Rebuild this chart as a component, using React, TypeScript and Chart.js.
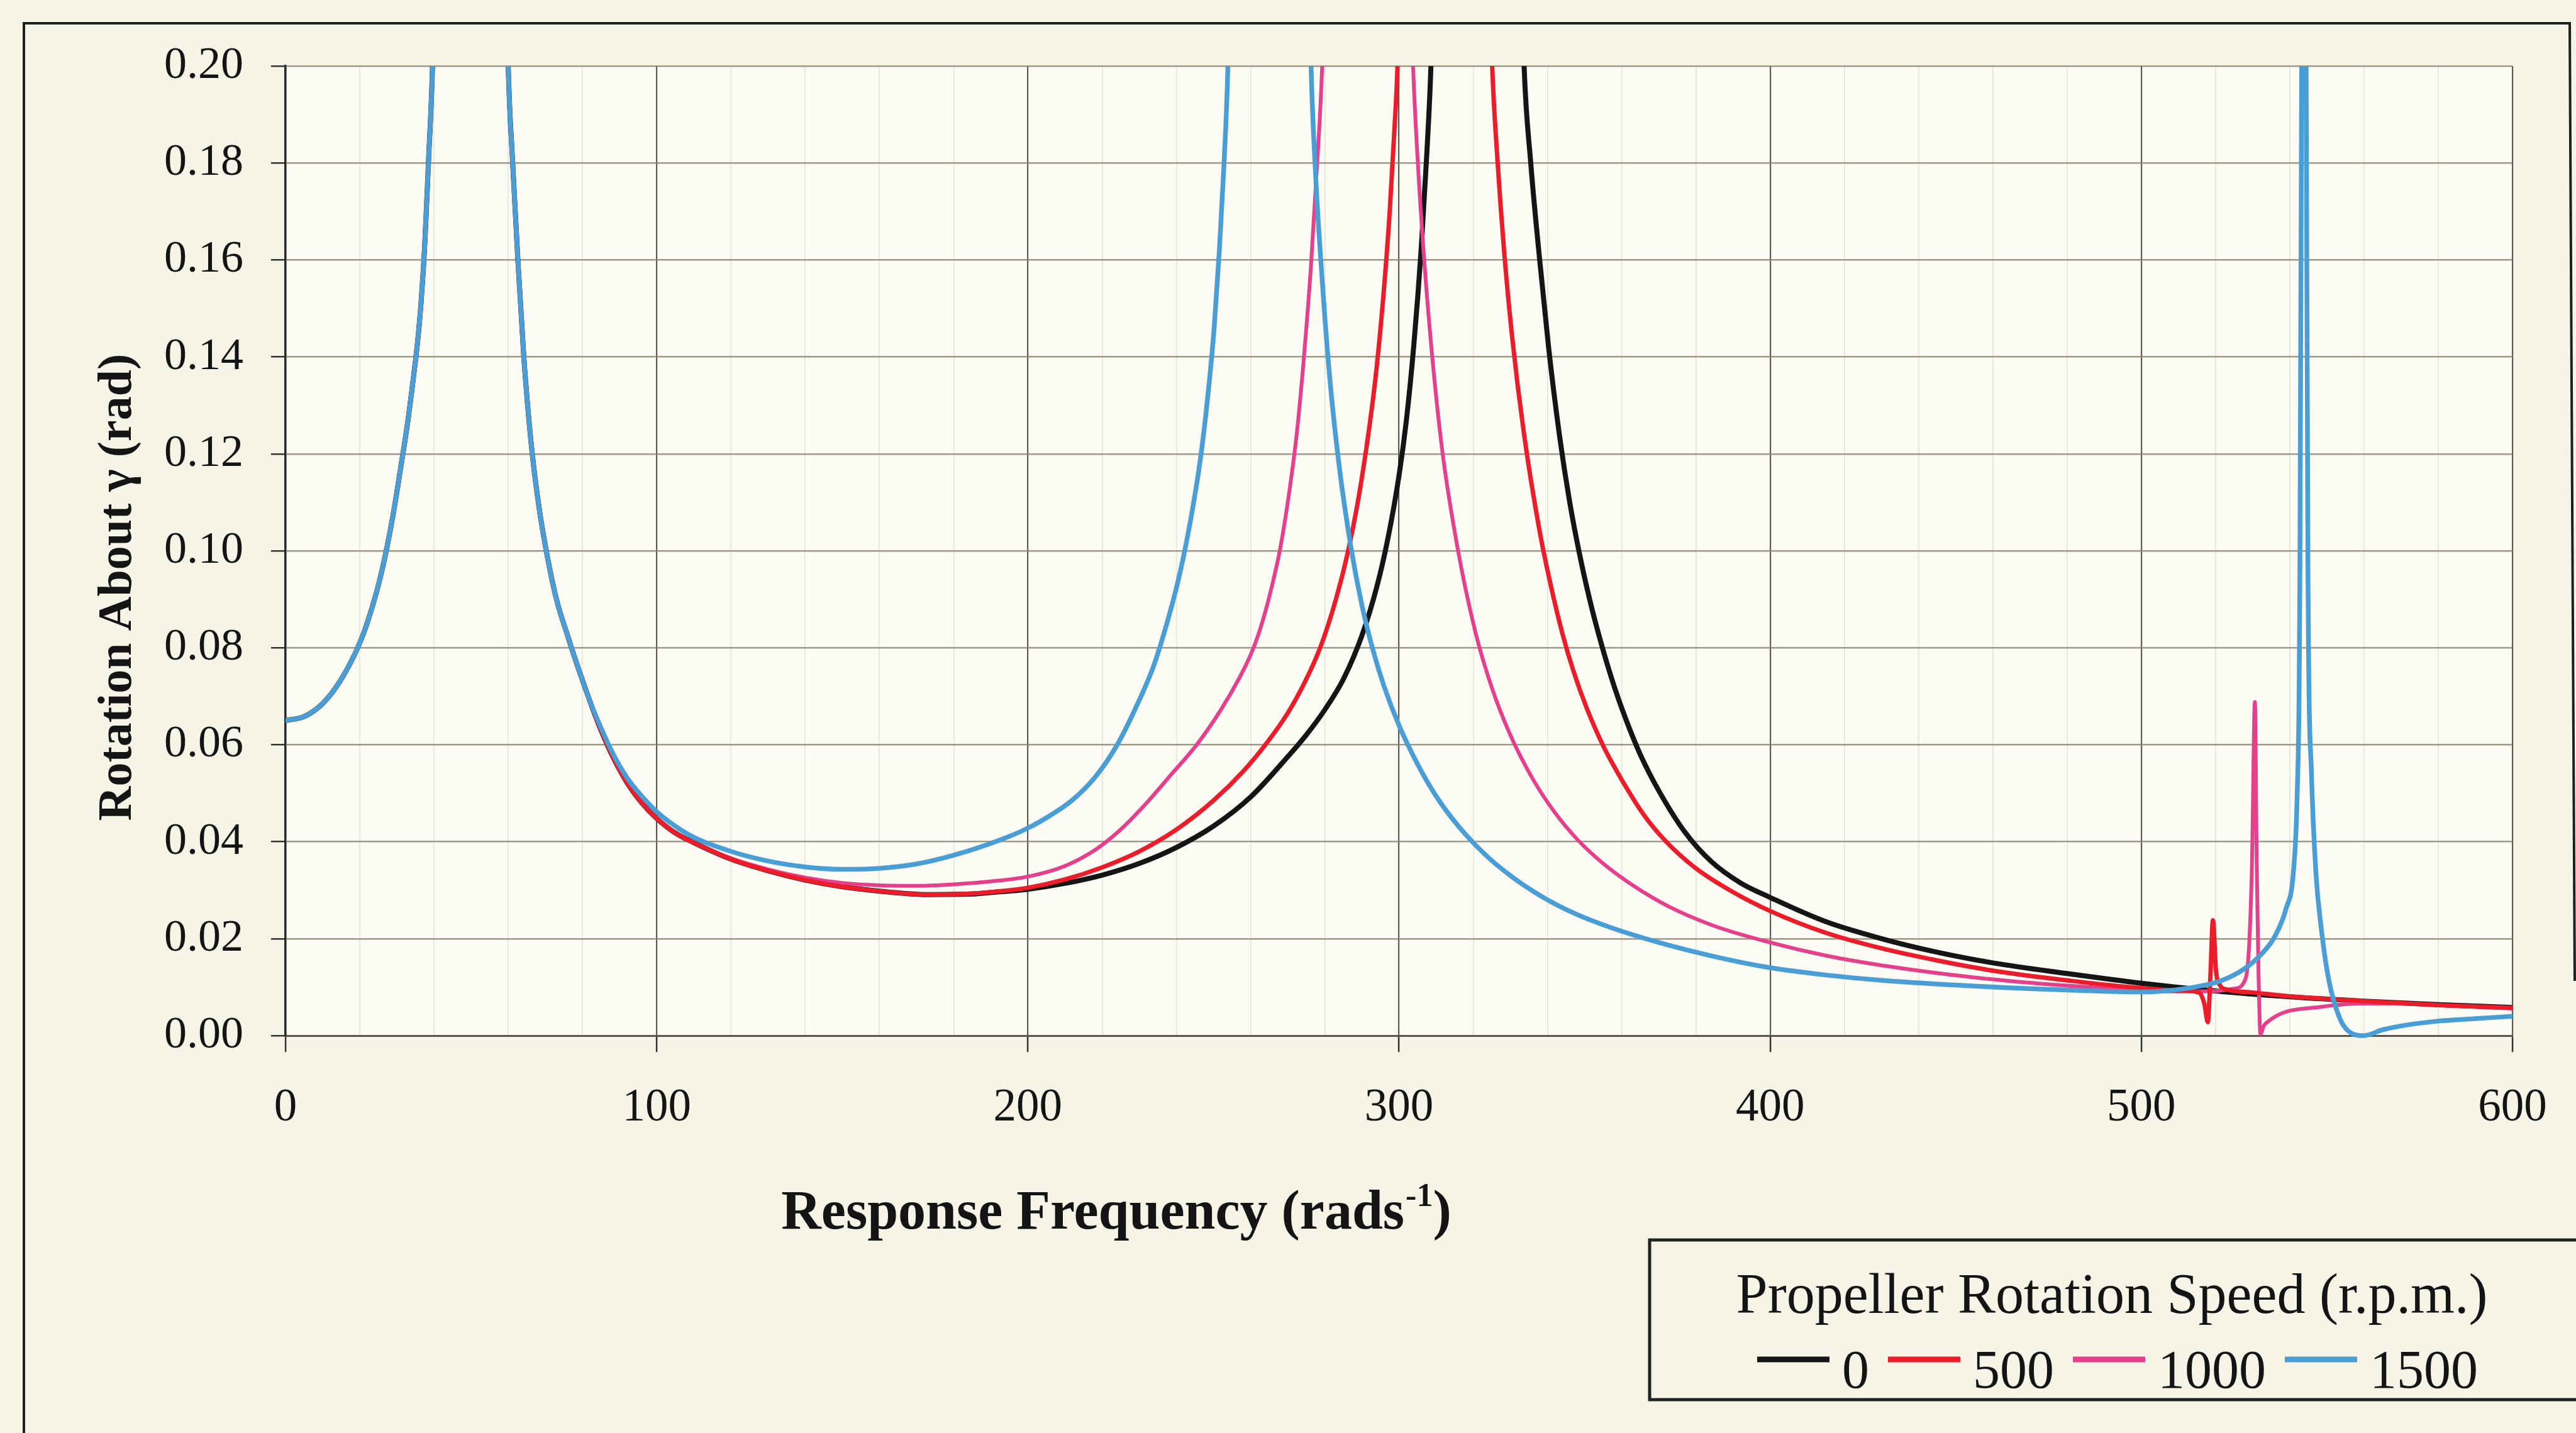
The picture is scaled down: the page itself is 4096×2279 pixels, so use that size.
import React, { useEffect, useRef } from "react";
import { Chart, registerables } from "chart.js";

Chart.register(...registerables);

const FONT = "'Liberation Serif', 'Times New Roman', serif";

// ---- series meta ----
const SERIES_LABELS = ["0", "500", "1000", "1500"];
const SERIES_COLORS = ["#151515", "#ec1c2b", "#e6408c", "#4a9ed6"];
const SERIES_WIDTHS = [8, 7, 6, 7.5];
const SERIES_ORDER = [3, 1, 2, 0];

const LEGEND_TITLE = "Propeller Rotation Speed (r.p.m.)";
const X_TITLE = "Response Frequency (rads";
const X_TITLE_SUP = "-1";
const Y_TITLE = "Rotation About \u03b3 (rad)";

const X_MIN = 0;
const X_MAX = 600;
const X_STEP = 20;
const X_LABEL_EVERY = 100;
const Y_MIN = 0;
const Y_MAX = 0.2;
const Y_STEP = 0.02;

// ---- data: [frequency (rad/s), rotation (rad)] ----
const SPEED_0 = [
  [0, 0.065], [5, 0.0658], [10, 0.0685], [15, 0.0735], [20, 0.081], [23, 0.0875], [26, 0.096],
  [29, 0.1075], [31, 0.117], [33, 0.127], [34.5, 0.136], [35.5, 0.1425], [36.5, 0.151],
  [37.5, 0.163], [38.5, 0.18], [39.6, 0.2], [44, 0.36], [50, 0.62], [56, 0.36], [60, 0.2],
  [61.2, 0.18], [62.6, 0.16], [64.2, 0.14], [66.2, 0.122], [68.3, 0.109], [70.5, 0.099],
  [73, 0.09], [76, 0.0825], [79, 0.0755], [82, 0.069], [85, 0.063], [88, 0.0578], [92, 0.0522],
  [96, 0.048], [100, 0.0448], [105, 0.0418], [110, 0.0398], [120, 0.0364], [130, 0.034],
  [140, 0.0321], [150, 0.0307], [160, 0.0298], [173, 0.0291], [185, 0.0292], [190, 0.0295],
  [200, 0.0302], [210, 0.0314], [220, 0.0331], [230, 0.0355], [240, 0.0388], [250, 0.0432],
  [260, 0.0492], [270, 0.0575], [275, 0.062], [280, 0.0672], [285, 0.0735], [290, 0.0825],
  [294, 0.0925], [297, 0.1025], [300, 0.1155], [302, 0.127], [304, 0.1425], [306, 0.1625],
  [307.5, 0.182], [308.6, 0.2], [314, 0.36], [321, 0.6], [328, 0.36], [333.7, 0.2],
  [335.5, 0.18], [337.9, 0.16], [340.3, 0.142], [343.2, 0.124], [346, 0.11], [349, 0.098],
  [352, 0.088], [355, 0.0795], [358, 0.072], [361, 0.0655], [365, 0.058], [370, 0.0505],
  [377, 0.042], [384, 0.036], [392, 0.0315], [400, 0.0285], [415, 0.0235], [430, 0.02],
  [445, 0.0172], [460, 0.015], [480, 0.0128], [500, 0.0108], [520, 0.0092], [540, 0.008],
  [560, 0.0071], [580, 0.0064], [600, 0.0058],
];

const SPEED_500 = [
  [0, 0.065], [5, 0.0658], [10, 0.0685], [15, 0.0735], [20, 0.081], [23, 0.0875], [26, 0.096],
  [29, 0.1075], [31, 0.117], [33, 0.127], [34.5, 0.136], [35.5, 0.1425], [36.5, 0.151],
  [37.5, 0.163], [38.5, 0.18], [39.6, 0.2], [44, 0.36], [50, 0.62], [56, 0.36], [60, 0.2],
  [61.2, 0.18], [62.6, 0.16], [64.2, 0.14], [66.2, 0.122], [68.3, 0.109], [70.5, 0.099],
  [73, 0.09], [76, 0.0825], [79, 0.0755], [82, 0.069], [85, 0.063], [88, 0.0578], [92, 0.0522],
  [96, 0.048], [100, 0.0448], [105, 0.0418], [110, 0.0398], [120, 0.0364], [130, 0.034],
  [140, 0.0321], [150, 0.0307], [160, 0.0298], [173, 0.0291], [185, 0.0293], [190, 0.0296],
  [200, 0.0305], [210, 0.0322], [220, 0.0347], [230, 0.038], [240, 0.0425], [250, 0.0485],
  [258, 0.0545], [264, 0.06], [270, 0.0665], [275, 0.0735], [279, 0.0805], [283, 0.09],
  [286, 0.099], [289, 0.1105], [292, 0.1255], [294, 0.138], [296, 0.1545], [297.5, 0.17],
  [298.7, 0.186], [299.6, 0.2], [305, 0.36], [312.4, 0.6], [319, 0.36], [325.1, 0.2],
  [326.5, 0.181], [328.3, 0.162], [330.5, 0.144], [333.7, 0.124], [337.9, 0.104],
  [341, 0.0925], [344, 0.083], [347, 0.0752], [350.6, 0.0675], [355, 0.0598], [360, 0.0528],
  [366, 0.0455], [372, 0.04], [380, 0.0345], [390, 0.0296], [400, 0.0257], [415, 0.0212],
  [430, 0.018], [445, 0.0155], [460, 0.0134], [480, 0.0114], [500, 0.0098], [510, 0.0093],
  [515.5, 0.0089], [517, 0.0065], [517.9, 0.0028], [518.6, 0.012], [519.3, 0.0238],
  [520.1, 0.0135], [521.2, 0.0104], [523, 0.0095], [530, 0.0089], [540, 0.0081],
  [560, 0.0071], [580, 0.0063], [600, 0.0057],
];

const SPEED_1000 = [
  [0, 0.065], [5, 0.0658], [10, 0.0685], [15, 0.0735], [20, 0.081], [23, 0.0875], [26, 0.096],
  [29, 0.1075], [31, 0.117], [33, 0.127], [34.5, 0.136], [35.5, 0.1425], [36.5, 0.151],
  [37.5, 0.163], [38.5, 0.18], [39.6, 0.2], [44, 0.36], [50, 0.62], [56, 0.36], [60, 0.2],
  [61.2, 0.18], [62.6, 0.16], [64.2, 0.14], [66.2, 0.122], [68.3, 0.109], [70.5, 0.099],
  [73, 0.09], [76, 0.0825], [79, 0.0755], [82, 0.069], [85, 0.063], [88, 0.0578], [92, 0.0522],
  [96, 0.048], [100, 0.0448], [105, 0.0418], [110, 0.0398], [120, 0.0366], [130, 0.0343],
  [140, 0.0326], [150, 0.0315], [160, 0.031], [170, 0.0309], [180, 0.0312], [190, 0.0318],
  [200, 0.0328], [210, 0.035], [218.5, 0.0385], [225, 0.0425], [231.4, 0.0475], [238, 0.0533],
  [245.7, 0.0602], [252, 0.0672], [257, 0.0738], [260, 0.0785], [262, 0.0825], [264, 0.0875],
  [266, 0.0935], [268, 0.1005], [270.5, 0.1125], [272.5, 0.1245], [274.5, 0.141],
  [276.3, 0.159], [277.8, 0.178], [279.3, 0.2], [285, 0.36], [291.5, 0.6], [298, 0.36],
  [303.8, 0.2], [305, 0.181], [306.6, 0.162], [308.6, 0.143], [311.6, 0.121], [315.8, 0.1005],
  [320.5, 0.0835], [325, 0.0718], [330, 0.062], [336, 0.053], [342, 0.046], [348, 0.0405],
  [355, 0.0355], [363, 0.031], [373, 0.0265], [385, 0.0226], [400, 0.0192], [415, 0.0165],
  [430, 0.0145], [455, 0.012], [480, 0.0103], [500, 0.0094], [510, 0.0091], [520, 0.0092],
  [525, 0.0097], [527.5, 0.0108], [529, 0.018], [529.8, 0.035], [530.6, 0.0688],
  [531.1, 0.035], [531.6, 0.012], [532.1, 0.0003], [533, 0.002], [534.3, 0.003],
  [538.5, 0.0048], [547, 0.0058], [559, 0.0066], [570, 0.0066], [585, 0.0061], [600, 0.0056],
];

const SPEED_1500 = [
  [0, 0.065], [5, 0.0658], [10, 0.0685], [15, 0.0735], [20, 0.081], [23, 0.0875], [26, 0.096],
  [29, 0.1075], [31, 0.117], [33, 0.127], [34.5, 0.136], [35.5, 0.1425], [36.5, 0.151],
  [37.5, 0.163], [38.5, 0.18], [39.6, 0.2], [44, 0.36], [50, 0.62], [56, 0.36], [60, 0.2],
  [61.2, 0.18], [62.6, 0.16], [64.2, 0.14], [66.2, 0.122], [68.3, 0.109], [70.5, 0.099],
  [73, 0.09], [76, 0.0825], [79, 0.0755], [82, 0.069], [85, 0.0635], [88, 0.0585],
  [92, 0.0532], [96, 0.0494], [100, 0.0462], [105, 0.0432], [110, 0.0409], [120, 0.038],
  [130, 0.036], [140, 0.0348], [150, 0.0343], [160, 0.0345], [170, 0.0354], [180, 0.0372],
  [192, 0.0402], [200, 0.0428], [206, 0.0454], [212, 0.0486], [218, 0.0532], [223.7, 0.0595],
  [229, 0.0675], [234, 0.0765], [238, 0.0865], [241, 0.0955], [244, 0.107], [246.5, 0.119],
  [248.5, 0.132], [250.2, 0.146], [251.6, 0.162], [252.8, 0.179], [253.9, 0.2], [259, 0.4],
  [265, 0.7], [271, 0.4], [276.3, 0.2], [277.5, 0.178], [279.2, 0.157], [281.3, 0.136],
  [283.8, 0.118], [287, 0.101], [290, 0.0888], [293, 0.0795], [296, 0.072], [300, 0.064],
  [305, 0.056], [310, 0.0494], [316, 0.0432], [323, 0.0375], [330, 0.033], [338, 0.0289],
  [347, 0.0253], [357, 0.0223], [370, 0.0192], [385, 0.0163], [400, 0.014], [415, 0.0125],
  [430, 0.0114], [455, 0.0102], [480, 0.0094], [500, 0.009], [509, 0.0094], [517.6, 0.0105],
  [521.8, 0.0114], [527.6, 0.0137], [532.6, 0.017], [536, 0.0205], [539, 0.0262],
  [541, 0.034], [542, 0.05], [542.6, 0.08], [543.2, 0.2], [543.8, 0.6], [544.4, 0.2],
  [545, 0.085], [545.8, 0.055], [547, 0.034], [548.5, 0.022], [550.5, 0.0115],
  [553.5, 0.0035], [556, 0.0008], [560, 0], [565, 0.0012], [570, 0.002], [580, 0.003],
  [590, 0.0035], [600, 0.004],
];

const SERIES_DATA = [SPEED_0, SPEED_500, SPEED_1000, SPEED_1500];

// ---- styling / layout (at 0.92 of the reference) ----
const W = 4096;
const H = 2279;
const PAGE_BG = "#f6f4e7";
const PLOT_BG = "#fcfcf5";
const TEXT = "#141414";

const decorPlugin = {
  id: "decor",
  beforeDraw(chart: any) {
    const { ctx, chartArea } = chart;
    ctx.save();
    ctx.fillStyle = PAGE_BG;
    ctx.fillRect(0, 0, chart.width, chart.height);
    ctx.fillStyle = PLOT_BG;
    ctx.fillRect(chartArea.left, chartArea.top, chartArea.right - chartArea.left, chartArea.bottom - chartArea.top);
    ctx.restore();
  },
  afterDraw(chart: any) {
    const { ctx } = chart;
    ctx.save();
    // outer frame (left, top, and upper part of the right side)
    ctx.strokeStyle = "#1e1e1e";
    ctx.lineWidth = 4;
    ctx.beginPath();
    ctx.moveTo(38, chart.height + 10);
    ctx.lineTo(38, 37);
    ctx.lineTo(4086, 37);
    ctx.lineTo(4094, 1560);
    ctx.stroke();

    ctx.fillStyle = TEXT;
    ctx.textAlign = "left";
    ctx.textBaseline = "alphabetic";

    // x axis title with superscript
    const mainFont = `bold 88px ${FONT}`;
    const supFont = `bold 52px ${FONT}`;
    ctx.font = mainFont;
    const wMain = ctx.measureText(X_TITLE).width;
    const wClose = ctx.measureText(")").width;
    ctx.font = supFont;
    const wSup = ctx.measureText(X_TITLE_SUP).width;
    let x = 1774 - (wMain + wSup + wClose) / 2;
    const base = 1954;
    ctx.font = mainFont;
    ctx.fillText(X_TITLE, x, base);
    x += wMain + 2;
    ctx.font = supFont;
    ctx.fillText(X_TITLE_SUP, x, base - 36);
    x += wSup;
    ctx.font = mainFont;
    ctx.fillText(")", x, base);

    // y axis title
    ctx.save();
    ctx.translate(208, 934);
    ctx.rotate(-Math.PI / 2);
    ctx.font = `bold 76px ${FONT}`;
    ctx.textAlign = "center";
    ctx.fillText(Y_TITLE, 0, 0);
    ctx.restore();

    // legend box
    ctx.strokeStyle = "#222";
    ctx.lineWidth = 5;
    ctx.strokeRect(2623, 1972, chart.width + 40 - 2623, 2226 - 1972);
    ctx.font = `90px ${FONT}`;
    ctx.textAlign = "center";
    ctx.fillText(LEGEND_TITLE, 3358, 2088);
    ctx.textAlign = "left";
    ctx.font = `86px ${FONT}`;
    let lx = 2794;
    chart.data.datasets.forEach((ds: any) => {
      ctx.strokeStyle = ds.borderColor;
      ctx.lineWidth = 9;
      ctx.beginPath();
      ctx.moveTo(lx, 2162);
      ctx.lineTo(lx + 115, 2162);
      ctx.stroke();
      lx += 115 + 20;
      ctx.fillText(ds.label, lx, 2207);
      lx += ctx.measureText(ds.label).width + 30;
    });
    ctx.restore();
  },
};

export default function App() {
  const ref = useRef<HTMLCanvasElement | null>(null);

  useEffect(() => {
    document.body.style.margin = "0";
    document.body.style.background = PAGE_BG;
    const canvas = ref.current;
    if (!canvas) return;

    const datasets = SERIES_LABELS.map((label, i) => ({
      label,
      data: SERIES_DATA[i].map(([fx, fy]) => ({ x: fx, y: fy })),
      borderColor: SERIES_COLORS[i],
      backgroundColor: SERIES_COLORS[i],
      borderWidth: SERIES_WIDTHS[i],
      order: SERIES_ORDER[i],
      pointRadius: 0,
      fill: false,
      cubicInterpolationMode: "monotone" as const,
      clip: { left: 0, top: 0, right: 0, bottom: 6 },
    }));

    const chart = new Chart(canvas, {
      type: "line",
      data: { datasets },
      options: {
        animation: false,
        responsive: false,
        maintainAspectRatio: false,
        devicePixelRatio: 1,
        layout: { padding: { top: 105, right: W - 3995, left: 0, bottom: 0 } },
        plugins: { legend: { display: false }, tooltip: { enabled: false }, title: { display: false } },
        elements: { point: { radius: 0 }, line: { borderJoinStyle: "round", borderCapStyle: "round" } },
        scales: {
          x: {
            type: "linear",
            min: X_MIN,
            max: X_MAX,
            afterFit: (s: any) => {
              s.height = H - 1647;
            },
            ticks: {
              stepSize: X_STEP,
              autoSkip: false,
              maxRotation: 0,
              padding: 46,
              color: TEXT,
              font: { family: FONT, size: 73 },
              callback: (v: any) => (Number(v) % X_LABEL_EVERY === 0 ? String(v) : ""),
            },
            grid: {
              color: (c: any) =>
                c.tick && Math.round(c.tick.value) % X_LABEL_EVERY === 0 ? "#5e5a52" : "rgba(205,200,185,0.45)",
              lineWidth: (c: any) => (c.tick && Math.round(c.tick.value) % X_LABEL_EVERY === 0 ? 2.2 : 1.6),
              tickLength: 26,
              tickColor: (c: any) =>
                c.tick && Math.round(c.tick.value) % X_LABEL_EVERY === 0 ? "#333" : "rgba(0,0,0,0)",
              tickWidth: 2.5,
            },
            border: { color: "#5a554c", width: 3 },
          },
          y: {
            type: "linear",
            min: Y_MIN,
            max: Y_MAX,
            afterFit: (s: any) => {
              s.width = 454;
            },
            ticks: {
              stepSize: Y_STEP,
              padding: 44,
              color: TEXT,
              font: { family: FONT, size: 72 },
              callback: (v: any) => Number(v).toFixed(2),
            },
            grid: {
              color: "rgba(135,127,108,0.8)",
              lineWidth: 2.5,
              tickLength: 23,
              tickColor: "#333",
              tickWidth: 2.5,
            },
            border: { color: "#2a2a2a", width: 3.5 },
          },
        },
      },
      plugins: [decorPlugin],
    });

    return () => chart.destroy();
  }, []);

  return (
    <div style={{ width: W, height: H, overflow: "hidden" }}>
      <canvas ref={ref} width={W} height={H} style={{ display: "block", width: W, height: H }} />
    </div>
  );
}
